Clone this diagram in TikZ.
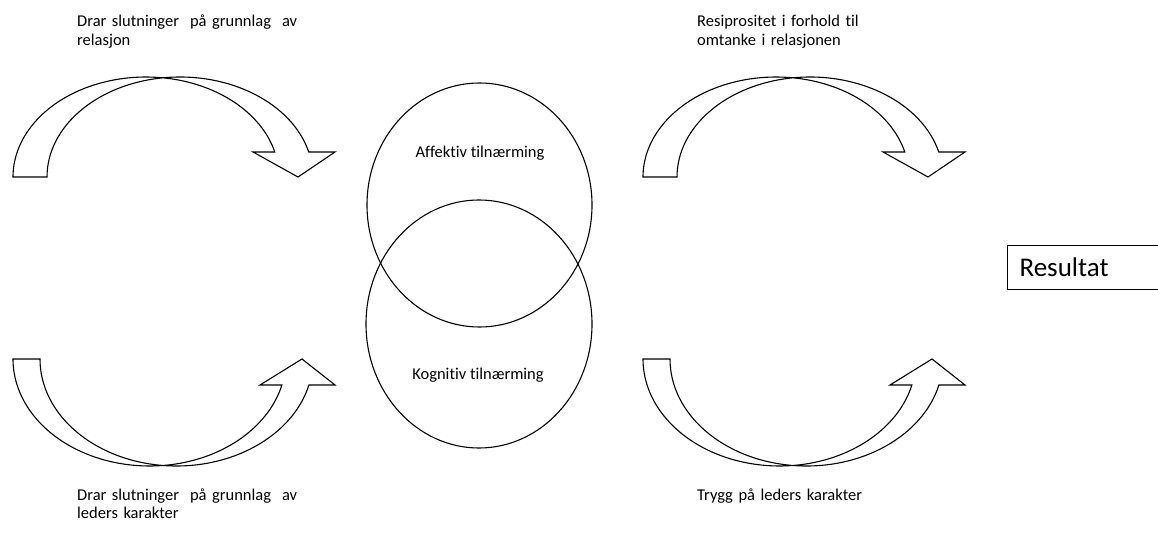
\documentclass[tikz,border=0pt]{standalone}
\usepackage{fontspec}
\setmainfont{Carlito}[Ligatures=NoCommon]
\usetikzlibrary{shapes.geometric}

% Hollow curved block arrows built from two shifted elliptic arcs
\newcommand\bendoverarrow[1]{%
  \begin{scope}[xshift=#1pt]
    \draw[outline]
      (13,177) arc[start angle=180, end angle=277.34, x radius=133, y radius=100]
               arc[start angle=262.66, end angle=345.52, x radius=133, y radius=100]
      -- (335,152) -- (298,177) -- (253,152) -- (274.8,152)
               arc[start angle=345.52, end angle=277.34, x radius=133, y radius=100]
               arc[start angle=262.66, end angle=180, x radius=133, y radius=100]
      -- cycle;
  \end{scope}}
\newcommand\bendunderarrow[1]{%
  \begin{scope}[xshift=#1pt]
    \draw[outline]
      (13,359) arc[start angle=180, end angle=84.32, x radius=136.5, y radius=107]
               arc[start angle=95.68, end angle=14.06, x radius=136.5, y radius=107]
      -- (335,385) -- (302,359) -- (260,385) -- (281.9,385)
               arc[start angle=14.06, end angle=84.32, x radius=136.5, y radius=107]
               arc[start angle=95.68, end angle=180, x radius=136.5, y radius=107]
      -- cycle;
  \end{scope}}

\begin{document}
\begin{tikzpicture}[x=1pt, y=-1pt,
  outline/.style={draw=black, line width=1.1pt, line join=miter},
  caption/.style={font=\fontsize{16.5}{18.5}\selectfont, text width=260pt,
    align=left, inner sep=0pt, anchor=base west},
  inlabel/.style={font=\fontsize{16.5}{18.5}\selectfont, inner sep=0pt, anchor=base},
  circ/.style={outline, ellipse, inner sep=0pt}]
\useasboundingbox (0,0) rectangle (1158,545);

% curved arrows on both sides of the overlapping ellipses
\bendoverarrow{0}
\bendunderarrow{0}
\bendoverarrow{630}
\bendunderarrow{630}

% overlapping ellipses
\node[circ, minimum width=225pt, minimum height=244pt] (affektiv) at (479.5,205) {};
\node[circ, minimum width=226pt, minimum height=248pt] (kognitiv) at (479,324) {};
\node[inlabel] (affektivtxt) at (480,158) {Affektiv tilnærming};
\node[inlabel] (kognitivtxt) at (478,379) {Kognitiv tilnærming};

% captions
\node[caption] (relasjon) at (77,27) {Drar slutninger \ på grunnlag \ av\\relasjon};
\node[caption] (resiprositet) at (697,27) {Resiprositet i forhold til\\omtanke i relasjonen};
\node[caption] (karakter) at (77,500) {Drar slutninger \ på grunnlag \ av\\leders karakter};
\node[caption] (trygg) at (697,500) {Trygg på leders karakter};

% result box, running off the right edge
\node[outline, rectangle, anchor=north west, minimum height=44pt, text width=150pt,
  inner xsep=12pt, inner ysep=0pt, align=left, font=\fontsize{27}{30}\selectfont]
  (resultat) at (1007,245) {Resultat};
\end{tikzpicture}
\end{document}
